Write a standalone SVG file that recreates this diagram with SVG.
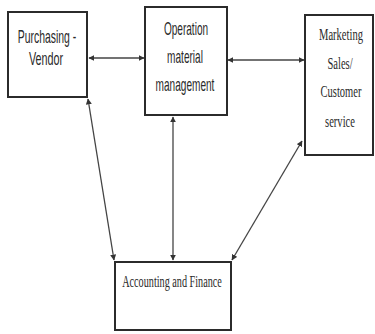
<svg xmlns="http://www.w3.org/2000/svg" width="375" height="334" viewBox="0 0 375 334">
<defs>
<style>
.box{fill:#fff;stroke:#2b2b2b;stroke-width:2}
.sans{font-family:"Liberation Sans",Arial,sans-serif;font-size:18px;fill:#2a2a2a;text-anchor:middle}
.serif{font-family:"Liberation Serif","Times New Roman",serif;font-size:17px;fill:#2a2a2a;text-anchor:middle}
.con{stroke:#444;stroke-width:1.3;fill:none;marker-start:url(#ah);marker-end:url(#ah)}
</style>
<marker id="ah" viewBox="0 0 10 10" refX="9" refY="5" markerWidth="6" markerHeight="6" orient="auto-start-reverse" markerUnits="userSpaceOnUse">
<path d="M0,0 L10,5 L0,10 z" fill="#333"/>
</marker>
</defs>
<rect width="375" height="334" fill="#fff"/>
<g id="connectors">
<line class="con" x1="89" y1="58" x2="144" y2="58"/>
<line class="con" x1="228" y1="60" x2="304" y2="60"/>
<line class="con" x1="88" y1="99" x2="114" y2="260"/>
<line class="con" x1="173" y1="117" x2="173" y2="260"/>
<line class="con" x1="302" y1="141" x2="232" y2="260"/>
</g>
<g id="purchasing">
<rect class="box" x="8" y="12" width="79" height="85"/>
<text class="sans" transform="translate(47,43) scale(0.58,1)">Purchasing -</text>
<text class="sans" transform="translate(46,65) scale(0.6,1)">Vendor</text>
</g>
<g id="operation">
<rect class="box" x="145" y="7" width="82" height="108"/>
<text class="sans" transform="translate(186,35) scale(0.56,1)">Operation</text>
<text class="sans" transform="translate(185,63) scale(0.56,1)">material</text>
<text class="sans" transform="translate(185,91) scale(0.56,1)">management</text>
</g>
<g id="marketing">
<rect class="box" x="305" y="15" width="68" height="140"/>
<text class="serif" transform="translate(341,40) scale(0.62,1)">Marketing</text>
<text class="serif" transform="translate(340,69) scale(0.62,1)">Sales/</text>
<text class="serif" transform="translate(341,97) scale(0.62,1)">Customer</text>
<text class="serif" transform="translate(340,127) scale(0.62,1)">service</text>
</g>
<g id="accounting">
<rect class="box" x="115" y="262" width="116" height="68"/>
<text class="serif" transform="translate(172,287) scale(0.6,1)">Accounting and Finance</text>
</g>
</svg>
